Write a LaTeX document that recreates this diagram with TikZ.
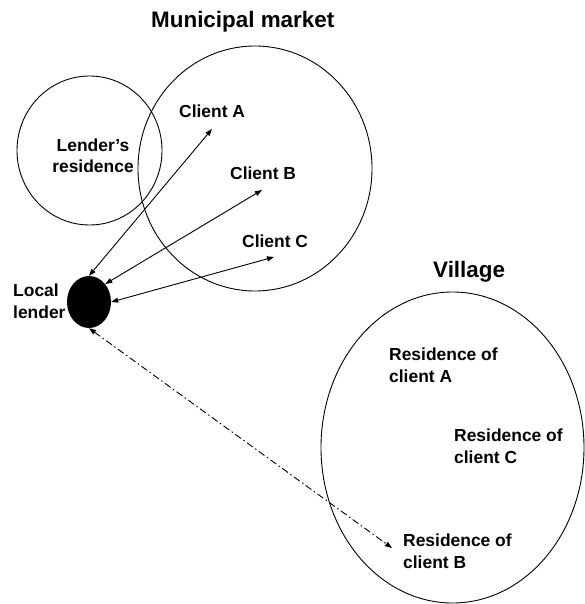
\documentclass[tikz,border=0pt]{standalone}
\usepackage{fontspec}
\setmainfont{Liberation Sans}
\usetikzlibrary{shapes.geometric,arrows.meta}

\tikzset{
  region/.style={draw=black, line width=0.9bp, ellipse, inner sep=0pt},
  title/.style={font=\bfseries\fontsize{22.5}{26}\selectfont, inner sep=0pt, anchor=base west},
  label/.style={font=\bfseries\fontsize{17.5}{22}\selectfont, inner sep=0pt, align=left, anchor=base west},
  link/.style={line width=0.9bp, {Triangle[length=7bp,width=5bp]}-{Triangle[length=7bp,width=5bp]}},
  trip/.style={line width=0.9bp, dash pattern=on 7bp off 3bp on 1.5bp off 3bp,
    {Triangle[length=7bp,width=5bp]}-{Triangle[length=7bp,width=5bp]}}
}

\begin{document}
\begin{tikzpicture}[x=1bp, y=-1bp]
  \useasboundingbox (0,0) rectangle (585,604);
  \fill[white] (0,0) rectangle (585,604);

  % Areas
  \node[region, minimum width=145bp, minimum height=149bp] (home) at (89.5,150.5) {};
  \node[region, minimum width=234bp, minimum height=245bp] (market) at (255,168.5) {};
  \node[region, minimum width=263bp, minimum height=311bp] (village) at (452.5,447.5) {};

  % The lender
  \node[ellipse, fill=black, inner sep=0pt, minimum width=44bp, minimum height=52bp] (lender) at (89,302) {};

  % Headings and labels (multi-line labels are placed by their last baseline)
  \node[title] (markettitle) at (151,28) {Municipal market};
  \node[title] (villagetitle) at (433,277) {Village};
  \node[label, align=center, anchor=base] (hometext) at (93,173) {Lender’s\\residence};
  \node[label] (lendertext) at (13,318) {Local\\lender};
  \node[label] (clientA) at (179,118) {Client A};
  \node[label] (clientB) at (230,180) {Client B};
  \node[label] (clientC) at (242,247) {Client C};
  \node[label] (resA) at (389,382) {Residence of\\client A};
  \node[label] (resC) at (454,463) {Residence of\\client C};
  \node[label] (resB) at (403,568) {Residence of\\client B};

  % Arrow ends near the labels
  \coordinate (tipA) at (212,129);
  \coordinate (tipB) at (262,190);
  \coordinate (tipC) at (274,257);
  \coordinate (tipR) at (392,548);

  % Connectors
  \draw[link] (lender.north) -- (tipA);
  \draw[link] (lender.48) -- (tipB);
  \draw[link] (lender.east) -- (tipC);
  \draw[trip] (lender.south) -- (tipR);
\end{tikzpicture}
\end{document}
